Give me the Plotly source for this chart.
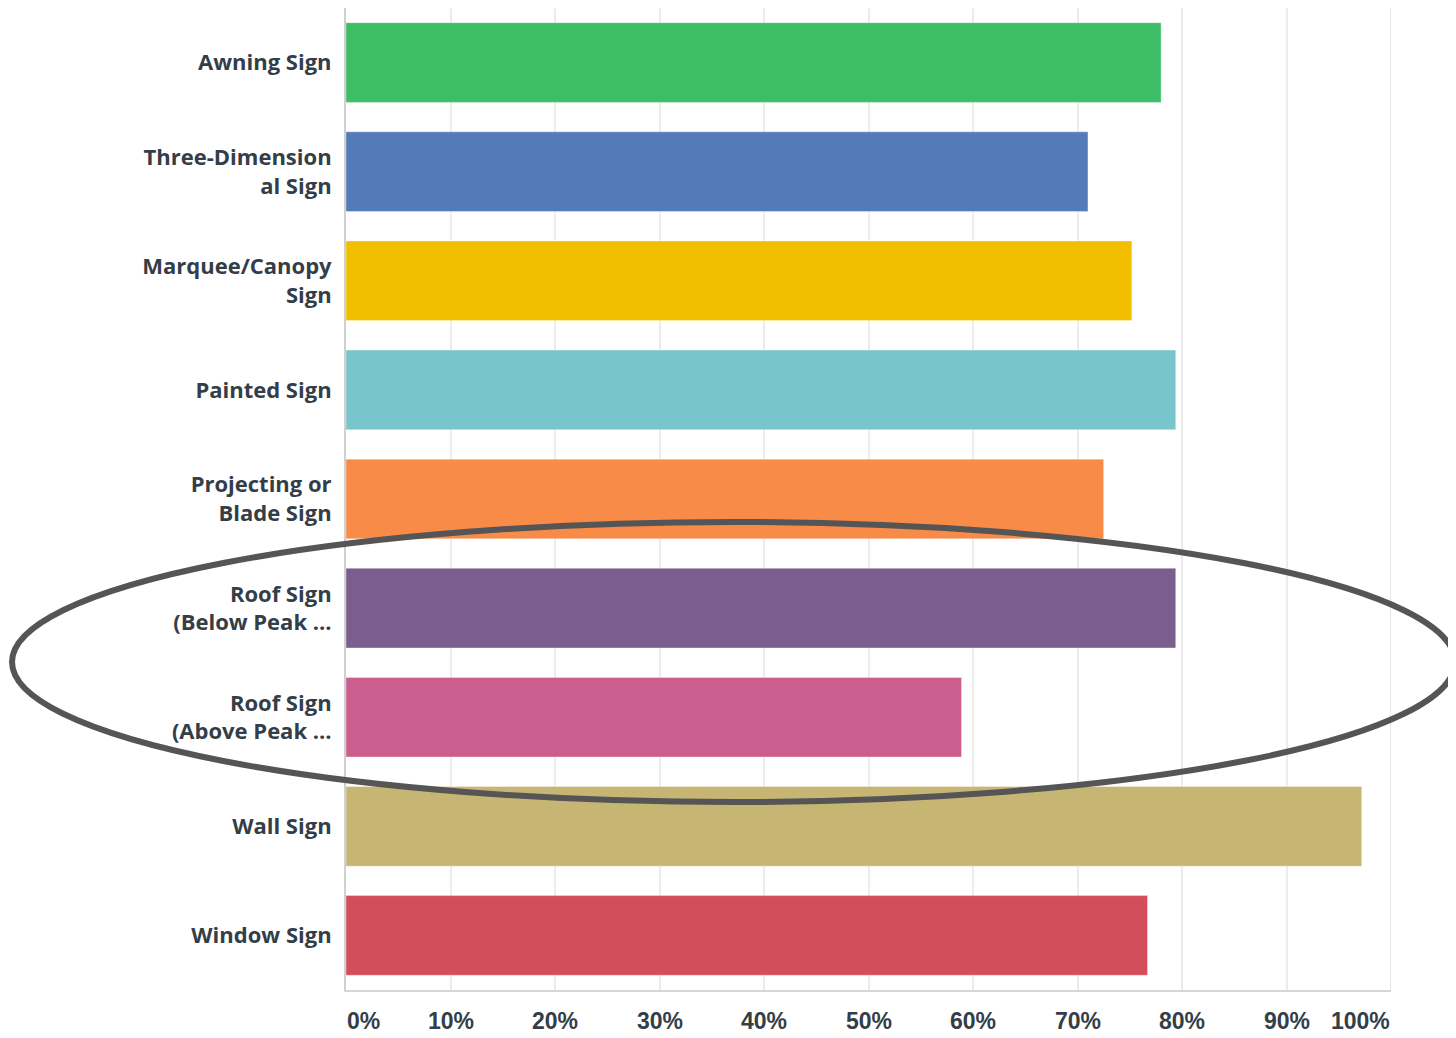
import plotly.graph_objects as go

categories = ["Awning Sign", "Three-Dimension<br>al Sign", "Marquee/Canopy<br>Sign", "Painted Sign",
              "Projecting or<br>Blade Sign", "Roof Sign<br>(Below Peak ...", "Roof Sign<br>(Above Peak ...",
              "Wall Sign", "Window Sign"]
values = [78.0, 71.0, 75.2, 79.4, 72.5, 79.4, 58.9, 97.2, 76.7]
colors = ["#3dbd66", "#537bb8", "#f2be00", "#78c6cc", "#f78b47", "#7b5e8e", "#cc5e8f", "#c7b673", "#d24e5a"]
tick_vals = [0, 10, 20, 30, 40, 50, 60, 70, 80, 90, 100]
tick_text = ["0%", "10%", "20%", "30%", "40%", "50%", "60%", "70%", "80%", "90%", "100%"]

fig = go.Figure(go.Bar(
    x=values, y=categories, orientation="h",
    marker=dict(color=colors, line=dict(color="rgba(255,255,255,0.35)", width=1)),
    width=0.73, hoverinfo="skip",
))

# page body has an 8px margin; size the figure to fill the 1456x1038 window
fig.update_layout(
    width=1448, height=1030,
    margin=dict(l=338, r=65, t=0, b=48),
    paper_bgcolor="white", plot_bgcolor="white",
    showlegend=False,
    font=dict(family="Open Sans", color="#333e48"),
)
fig.update_xaxes(
    range=[0, 100], tickvals=tick_vals, showticklabels=False,
    showgrid=True, gridcolor="#ececec", gridwidth=2,
    showline=True, linecolor="#d6d6d6", linewidth=2, mirror=False,
    zeroline=False, fixedrange=True,
)
fig.update_yaxes(
    autorange="reversed", showgrid=False,
    showline=True, linecolor="#d0d0d0", linewidth=2,
    tickfont=dict(family="Open Sans", size=22, color="#333e48", weight=700),
    ticks="", ticklabelstandoff=8,
)

for v, t in zip(tick_vals, tick_text):
    anchor = "center"
    if v == 0:
        anchor = "left"
    elif v == 100:
        anchor = "right"
    fig.add_annotation(
        x=v, y=0, xref="x", yref="paper", yanchor="top", yshift=-17,
        xanchor=anchor, text=t, showarrow=False, borderpad=0,
        font=dict(family="Liberation Sans", size=23, color="#333e48", weight=700),
    )

# vertical line at 100% (right border)
fig.add_shape(type="line", xref="x", yref="paper", x0=100, x1=100, y0=0, y1=1,
              line=dict(color="#e6e6e6", width=2))

# highlight ellipse around roof sign rows
fig.add_shape(type="circle", xref="paper", yref="paper",
              x0=-0.3196, x1=1.0612, y0=0.1914, y1=0.4766,
              line=dict(color="#555555", width=6))

fig.write_html("out.html")
